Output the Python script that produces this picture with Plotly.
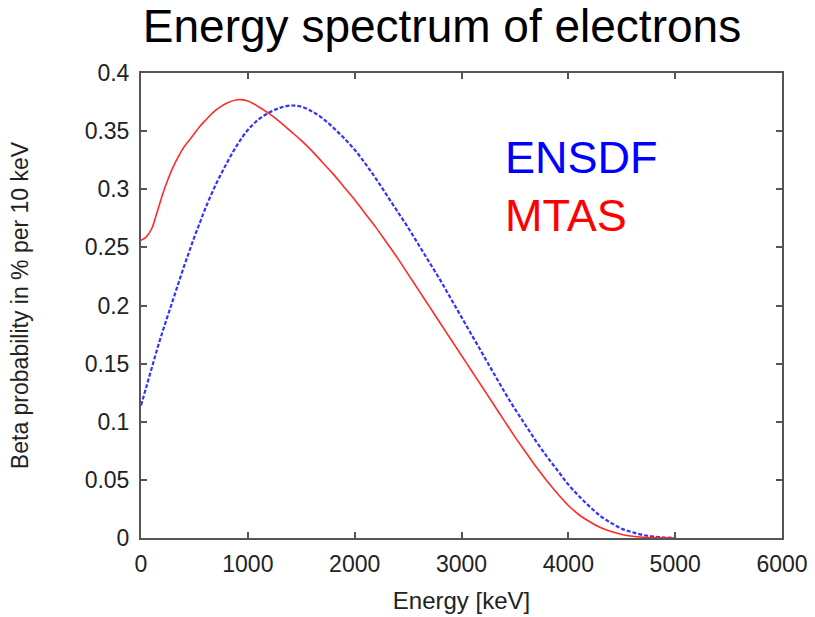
import plotly.graph_objects as go

# Energy grid (keV) shared by both spectra
energy = [0, 50, 100, 150, 200, 250, 300, 350, 400, 450, 500, 550, 600, 700, 800, 900,
          1000, 1100, 1200, 1300, 1400, 1500, 1600, 1700, 1800, 1900, 2000, 2100, 2200,
          2300, 2400, 2500, 2600, 2700, 2800, 2900, 3000, 3100, 3200, 3300, 3400, 3500,
          3600, 3700, 3800, 3900, 4000, 4100, 4200, 4300, 4400, 4500, 4600, 4700, 4800,
          4900, 5000]

# MTAS (red, solid)
mtas_v = [0.256, 0.259, 0.266, 0.280, 0.295, 0.308, 0.319, 0.328, 0.336, 0.342, 0.348,
          0.354, 0.359, 0.368, 0.374, 0.377, 0.376, 0.371, 0.365, 0.358, 0.350, 0.342,
          0.333, 0.323, 0.313, 0.302, 0.291, 0.279, 0.267, 0.254, 0.241, 0.227, 0.213,
          0.199, 0.185, 0.171, 0.157, 0.143, 0.129, 0.115, 0.101, 0.087, 0.074, 0.061,
          0.049, 0.038, 0.028, 0.020, 0.014, 0.009, 0.0055, 0.003, 0.0015, 0.0007,
          0.0003, 0.0001, 0.0]

# ENSDF (blue, dotted)
ensdf_v = [0.114, 0.130, 0.146, 0.162, 0.177, 0.191, 0.205, 0.219, 0.233, 0.246, 0.259,
           0.271, 0.283, 0.304, 0.322, 0.338, 0.351, 0.360, 0.366, 0.370, 0.372, 0.371,
           0.367, 0.361, 0.353, 0.344, 0.334, 0.322, 0.309, 0.295, 0.281, 0.267, 0.252,
           0.237, 0.222, 0.206, 0.190, 0.174, 0.158, 0.142, 0.126, 0.111, 0.097, 0.083,
           0.070, 0.058, 0.046, 0.036, 0.027, 0.019, 0.013, 0.008, 0.005, 0.0025,
           0.0012, 0.0004, 0.0]

x_ticks = [0, 1000, 2000, 3000, 4000, 5000, 6000]
y_ticks = [0, 0.05, 0.1, 0.15, 0.2, 0.25, 0.3, 0.35, 0.4]
y_tick_text = ["0", "0.05", "0.1", "0.15", "0.2", "0.25", "0.3", "0.35", "0.4"]

FONT = "Liberation Sans, Arial, sans-serif"
AXC = "#555555"
TXT = "#222222"

fig = go.Figure()
fig.add_trace(go.Scatter(x=energy, y=ensdf_v, mode="lines", name="ENSDF",
                         line=dict(color="#3333ff", width=2.2, dash="4px,2px", shape="spline",
                                   smoothing=1.0)))
fig.add_trace(go.Scatter(x=energy, y=mtas_v, mode="lines", name="MTAS",
                         line=dict(color="#ff2a2a", width=1.6, shape="spline", smoothing=1.0)))

fig.update_layout(
    width=815, height=617,
    margin=dict(l=141, r=33, t=73, b=79),
    paper_bgcolor="white", plot_bgcolor="white",
    showlegend=False,
    font=dict(family=FONT, color=TXT),
    title=dict(text="Energy spectrum of electrons", x=442 / 815, xref="container", xanchor="center",
               y=1 - 26 / 617, yref="container", yanchor="middle", automargin=False,
               font=dict(size=46, color="#000000", family=FONT)),
    xaxis=dict(range=[0, 6000], tickvals=x_ticks, ticks="inside", ticklen=6, tickwidth=1.5,
               tickcolor=AXC, showline=True, linecolor=AXC, linewidth=2, mirror="ticks",
               showgrid=False, zeroline=False, tickfont=dict(size=23, color=TXT),
               ticklabelstandoff=4, automargin=False,
               title=dict(text="Energy [keV]", font=dict(size=24, color=TXT), standoff=17)),
    yaxis=dict(range=[0, 0.4], tickvals=y_ticks, ticktext=y_tick_text, ticks="inside", ticklen=6,
               tickwidth=1.5, tickcolor=AXC, showline=True, linecolor=AXC, linewidth=2,
               mirror="ticks", showgrid=False, zeroline=False, automargin=False,
               tickfont=dict(size=23, color=TXT), ticklabelstandoff=5,
               title=dict(text="Beta probability in % per 10 keV", font=dict(size=23, color=TXT),
                          standoff=50)),
)

fig.add_annotation(text="ENSDF", xref="paper", yref="paper", x=(503 - 141) / 641,
                   y=(538 - 158) / 465, xanchor="left", yanchor="middle", showarrow=False,
                   font=dict(size=45, color="#0000ff", family=FONT))
fig.add_annotation(text="MTAS", xref="paper", yref="paper", x=(503 - 141) / 641,
                   y=(538 - 215) / 465, xanchor="left", yanchor="middle", showarrow=False,
                   font=dict(size=45, color="#ff0000", family=FONT))

fig.write_html("out.html")
